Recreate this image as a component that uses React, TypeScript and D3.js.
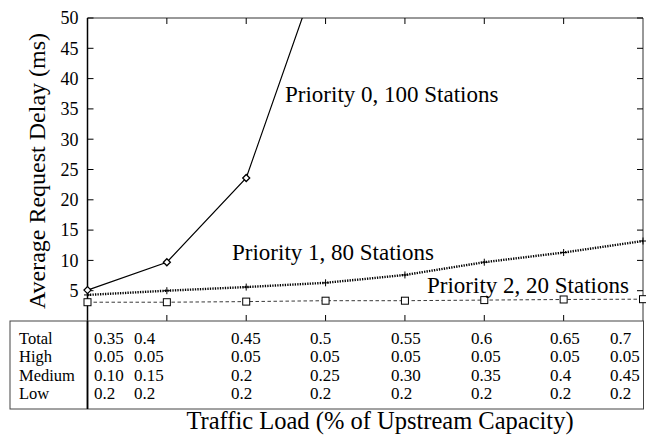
import React from "react";
import * as d3 from "d3";

const loads = [0.35, 0.4, 0.45, 0.5, 0.55, 0.6, 0.65, 0.7];
const p0 = [5.1, 9.7, 23.6, 61];
const p1 = [4.3, 5.0, 5.6, 6.3, 7.6, 9.7, 11.3, 13.2];
const p2 = [3.1, 3.1, 3.2, 3.35, 3.35, 3.45, 3.55, 3.6];
const yTicks = [5, 10, 15, 20, 25, 30, 35, 40, 45, 50];
const rowLabels = ["Total", "High", "Medium", "Low"];
const rowTotal = ["0.35", "0.4", "0.45", "0.5", "0.55", "0.6", "0.65", "0.7"];
const rowHigh = ["0.05", "0.05", "0.05", "0.05", "0.05", "0.05", "0.05", "0.05"];
const rowMedium = ["0.10", "0.15", "0.2", "0.25", "0.30", "0.35", "0.4", "0.45"];
const rowLow = ["0.2", "0.2", "0.2", "0.2", "0.2", "0.2", "0.2", "0.2"];
const seriesLabels = ["Priority 0, 100 Stations", "Priority 1, 80 Stations", "Priority 2, 20 Stations"];

const W = 646, H = 435;
const L = 87.5, R = 643, T = 18, B = 321;
const tableCols = [94, 134, 231, 310, 391, 471, 550, 610];
const rowBase = [344, 362.3, 380.5, 398.7];
const FONT = '"Liberation Serif", "Times New Roman", Times, serif';
const ts = { fontFamily: FONT };

export default function App() {
  const x = d3.scaleLinear().domain([0.35, 0.7]).range([L, R]);
  const y = d3.scaleLinear().domain([0, 50]).range([B, T]);
  const line = d3.line<[number, number]>().x(d => x(d[0])).y(d => y(d[1]));
  const d0 = p0.map((v, i) => [loads[i], v] as [number, number]);
  const d1 = p1.map((v, i) => [loads[i], v] as [number, number]);
  const d2 = p2.map((v, i) => [loads[i], v] as [number, number]);
  const rows = [rowTotal, rowHigh, rowMedium, rowLow];
  const tl = 6;
  return (
    <svg width={W} height={H} style={{ position: "absolute", left: 0, top: 0, background: "#fff", fontFamily: FONT }}>
      <defs>
        <clipPath id="plotclip">
          <rect x={L - 6} y={T} width={R - L + 12} height={B - T + 6} />
        </clipPath>
      </defs>
      <line x1={L} x2={R} y1={T} y2={T} stroke="#333" strokeWidth={1} />
      <line x1={R} x2={R} y1={T} y2={B} stroke="#333" strokeWidth={1} />
      <line x1={L} x2={L} y1={T} y2={409} stroke="#000" strokeWidth={1.5} />
      {yTicks.map(t => (
        <g key={"y" + t}>
          <line x1={L} x2={L + tl} y1={y(t)} y2={y(t)} stroke="#000" />
          <line x1={R - tl} x2={R} y1={y(t)} y2={y(t)} stroke="#000" />
          <text x={78.5} y={y(t)} dy="0.35em" textAnchor="end" fontSize={18} style={ts}>{t}</text>
        </g>
      ))}
      {loads.slice(1, -1).map(t => (
        <g key={"x" + t}>
          <line x1={x(t)} x2={x(t)} y1={T} y2={T + tl} stroke="#000" />
          <line x1={x(t)} x2={x(t)} y1={B} y2={B - tl} stroke="#000" />
        </g>
      ))}
      <g clipPath="url(#plotclip)">
        <path d={line(d2) || ""} fill="none" stroke="#222" strokeWidth={0.9} strokeDasharray="3.5,2.5" />
        <path d={line(d1) || ""} fill="none" stroke="#000" strokeWidth={2.4} strokeDasharray="1.3,1.2" />
        <path d={line(d0) || ""} fill="none" stroke="#000" strokeWidth={1.2} />
        {d2.map((p, i) => (
          <rect key={"s" + i} x={x(p[0]) - 3.5} y={y(p[1]) - 3.5} width={7} height={7} fill="#fff" stroke="#000" strokeWidth={1} />
        ))}
        {d1.map((p, i) => (
          <g key={"p" + i} stroke="#000" strokeWidth={1}>
            <line x1={x(p[0]) - 3.5} x2={x(p[0]) + 3.5} y1={y(p[1])} y2={y(p[1])} />
            <line x1={x(p[0])} x2={x(p[0])} y1={y(p[1]) - 3.5} y2={y(p[1]) + 3.5} />
          </g>
        ))}
        {d0.slice(0, 3).map((p, i) => (
          <path key={"d" + i} d={`M${x(p[0])},${y(p[1]) - 3.5}L${x(p[0]) + 3.5},${y(p[1])}L${x(p[0])},${y(p[1]) + 3.5}L${x(p[0]) - 3.5},${y(p[1])}Z`} fill="#fff" stroke="#000" strokeWidth={1.3} />
        ))}
      </g>
      <text x={285} y={101.5} fontSize={23} style={ts}>{seriesLabels[0]}</text>
      <text x={232} y={260} fontSize={23} style={ts}>{seriesLabels[1]}</text>
      <text x={427} y={293} fontSize={23} style={ts}>{seriesLabels[2]}</text>
      <text transform="translate(45,171) rotate(-90)" textAnchor="middle" fontSize={24} style={ts}>Average Request Delay (ms)</text>
      <rect x={10} y={B} width={633.5} height={88} fill="none" stroke="#444" strokeWidth={1} />
      <line x1={L} x2={L} y1={B} y2={409} stroke="#000" strokeWidth={1.5} />
      {rowLabels.map((lab, r) => (
        <text key={lab} x={19} y={rowBase[r]} fontSize={16.5} style={ts}>{lab}</text>
      ))}
      {rows.map((row, r) => row.map((v, c) => (
        <text key={r + "-" + c} x={tableCols[c]} y={rowBase[r]} fontSize={17} style={ts}>{v}</text>
      )))}
      <text x={380} y={429} textAnchor="middle" fontSize={24.5} style={ts}>Traffic Load (% of Upstream Capacity)</text>
    </svg>
  );
}
